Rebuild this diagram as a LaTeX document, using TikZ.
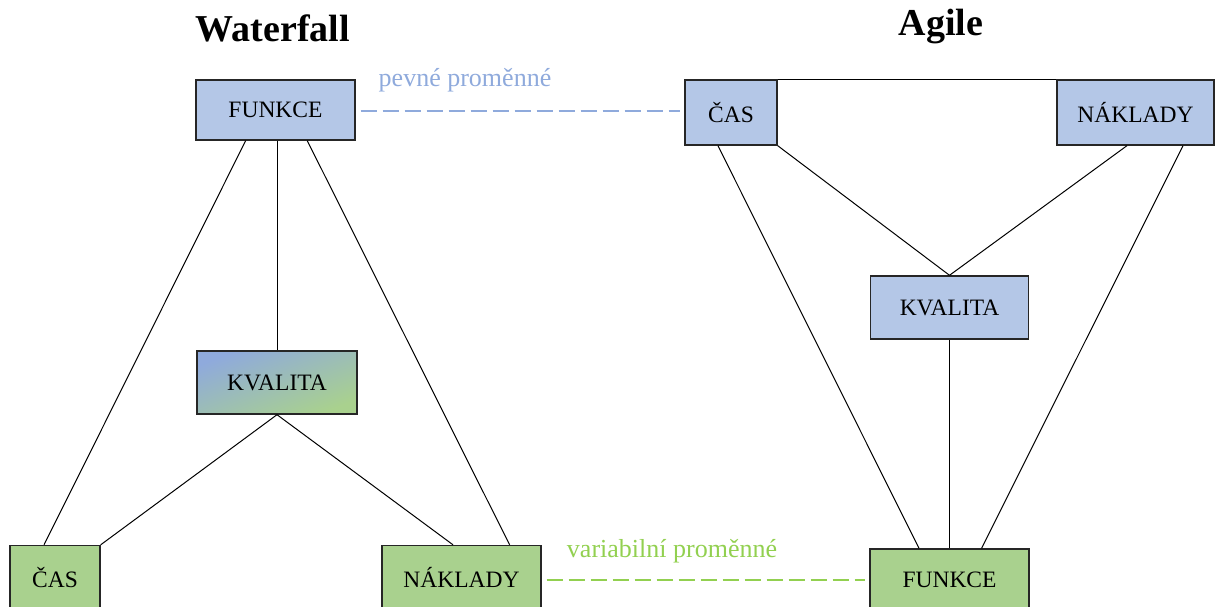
\documentclass[tikz,border=0pt]{standalone}
\usepackage{fontspec}
\setmainfont{Liberation Serif}
\usetikzlibrary{calc}
\definecolor{bluefill}{HTML}{B4C7E7}
\definecolor{greenfill}{HTML}{A9D18E}
\definecolor{gradblue}{HTML}{8FAADC}
\definecolor{dashblue}{HTML}{8FAADC}
\definecolor{dashgreen}{HTML}{92D050}
\begin{document}
\begin{tikzpicture}[x=1pt,y=-1pt,
  box/.style={draw=black!85, line width=1.4pt, inner sep=0pt, text=black,
    font=\fontsize{23.5}{27}\selectfont},
  bluebox/.style={box, fill=bluefill},
  greenbox/.style={box, fill=greenfill},
  conn/.style={line width=1pt, black},
  dashconn/.style={line width=2.6pt, dash pattern=on 16pt off 6pt},
  lbl/.style={font=\fontsize{26}{30}\selectfont, inner sep=0pt},
  ttl/.style={font=\fontsize{38}{42}\selectfont\bfseries, inner sep=0pt}]
\useasboundingbox (0,0) rectangle (1221,607);
% Waterfall
\node[ttl] (twf) at (273,28) {Waterfall};
\node[bluebox, minimum width=159pt, minimum height=60pt] (wf) at (275.5,110) {FUNKCE};
\node[box, minimum width=160pt, minimum height=63pt, shading=axis, top color=gradblue, bottom color=greenfill, shading angle=21.5, draw=black!85] (wk) at (277,382.5) {KVALITA};
\node[greenbox, minimum width=90pt, minimum height=64pt] (wc) at (55,577.5) {ČAS};
\node[greenbox, minimum width=159pt, minimum height=64pt] (wn) at (461.5,577.5) {NÁKLADY};
\draw[conn] ($(wf.south west)!0.314!(wf.south east)$) -- ($(wc.north west)!0.38!(wc.north east)$);
\draw[conn] (wf.south -| wk.north) -- (wk.north);
\draw[conn] ($(wf.south west)!0.698!(wf.south east)$) -- ($(wn.north west)!0.80!(wn.north east)$);
\draw[conn] (wk.south) -- (wc.north east);
\draw[conn] (wk.south) -- ($(wn.north west)!0.447!(wn.north east)$);
% Agile
\node[ttl] (tag) at (941,27) {Agile};
\node[bluebox, minimum width=92pt, minimum height=65pt] (ac) at (731,112.5) {ČAS};
\node[bluebox, minimum width=157pt, minimum height=65pt] (an) at (1135.5,112.5) {NÁKLADY};
\node[bluebox, minimum width=158pt, minimum height=63pt] (ak) at (949.5,307.5) {KVALITA};
\node[greenbox, minimum width=159pt, minimum height=62pt] (af) at (949.5,580) {FUNKCE};
\draw[conn] (ac.north east) -- (an.north west);
\draw[conn] ($(ac.south west)!0.36!(ac.south east)$) -- ($(af.north west)!0.31!(af.north east)$);
\draw[conn] (ac.south east) -- (ak.north);
\draw[conn] ($(an.south west)!0.446!(an.south east)$) -- (ak.north);
\draw[conn] ($(an.south west)!0.80!(an.south east)$) -- ($(af.north west)!0.70!(af.north east)$);
\draw[conn] (ak.south) -- (af.north);
% variable links
\draw[dashconn, dashblue] ([xshift=5pt]wf.east |- 0,111) -- ([xshift=-4pt]ac.west |- 0,111);
\node[lbl, text=dashblue] (lp) at (465,80) {pevné proměnné};
\draw[dashconn, dashgreen] ([xshift=5pt]wn.east |- 0,580) -- ([xshift=-4pt]af.west);
\node[lbl, text=dashgreen] (lv) at (672,551) {variabilní proměnné};
\end{tikzpicture}
\end{document}
